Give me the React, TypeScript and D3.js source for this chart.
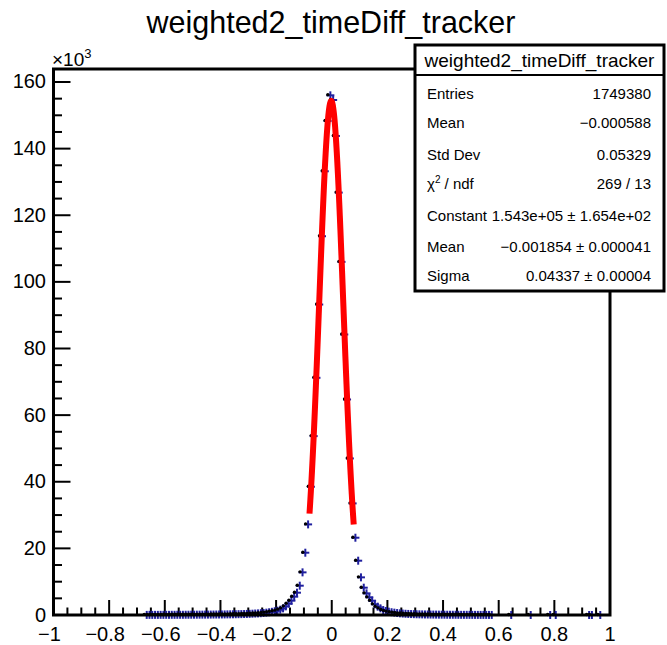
import React from "react";
import * as d3 from "d3";

// ---------- data ----------
const histTitle = "weighted2_timeDiff_tracker";
const firstBinCenter = -0.665;
const binWidth = 0.01;
// contiguous bin contents from -0.665 to 0.575
const counts: number[] = [
  30, 40, 35, 45, 40, 50, 45, 55, 50, 60,
  55, 65, 70, 65, 75, 80, 85, 90, 95, 100,
  105, 110, 120, 125, 135, 140, 150, 160, 170, 185,
  195, 210, 225, 245, 265, 290, 320, 350, 390, 430,
  480, 540, 610, 700, 820, 960, 1130,
  // -0.195 .. -0.005
  1300, 1600, 2000, 2600, 3400, 4300, 5500, 6700, 8800, 12800,
  18700, 27200, 38500, 53700, 71200, 93200, 113700, 133200, 148300, 156000,
  // 0.005 .. 0.195
  154600, 143800, 126800, 106000, 84200, 64700, 47000, 33500, 23200, 16300,
  11300, 8200, 6500, 5300, 4300, 3200, 2500, 2000, 1500, 1200,
  // 0.205 .. 0.575
  1000, 830, 700, 590, 500, 430, 370, 320, 280, 250,
  220, 200, 180, 160, 150, 135, 125, 115, 105, 95,
  90, 80, 75, 70, 65, 60, 55, 50, 48, 45,
  40, 38, 35, 30, 30, 25, 25, 20,
];
// isolated bins in the far right tail
const sparseCenters: number[] = [0.645, 0.715, 0.785, 0.805, 0.925, 0.935, 0.965];
const sparseCounts: number[] = [10, 8, 8, 6, 6, 6, 5];

// gaussian fit
const fitConstant = 1.543e5;
const fitMean = -0.001854;
const fitSigma = 0.04337;
const fitRange: [number, number] = [-0.08, 0.079];

// stats box
const statLabels = ["Entries", "Mean", "Std Dev", "χ² / ndf", "Constant", "Mean", "Sigma"];
const statValues = [
  "1749380",
  "−0.000588",
  "0.05329",
  "269 / 13",
  "1.543e+05 ± 1.654e+02",
  "−0.001854 ± 0.000041",
  "0.04337 ± 0.00004",
];

const xTickValues = [-1, -0.8, -0.6, -0.4, -0.2, 0, 0.2, 0.4, 0.6, 0.8, 1];
const yTickValues = [0, 20, 40, 60, 80, 100, 120, 140, 160];

// ---------- layout ----------
const W = 667;
const H = 645;
const FL = 53.5, FR = 610, FT = 69, FB = 615;
const FONT = "'Liberation Sans', Arial, Helvetica, sans-serif";
const BLUE = "#20209f";

export default function App() {
  const x = d3.scaleLinear().domain([-1, 1]).range([FL, FR]);
  const y = d3.scaleLinear().domain([0, 163.9e3]).range([FB, FT]);

  const points = counts
    .map((c, i) => ({ cx: firstBinCenter + i * binWidth, c }))
    .concat(sparseCenters.map((cx, i) => ({ cx, c: sparseCounts[i] })));

  const fitXs = d3.range(fitRange[0], fitRange[1] + 1e-9, 0.001);
  const gauss = (v: number) =>
    fitConstant * Math.exp(-0.5 * ((v - fitMean) / fitSigma) ** 2);
  const fitLine = d3
    .line<number>()
    .x((v) => x(v))
    .y((v) => y(gauss(v)))(fitXs);

  const xMinor = d3.range(-1, 1.0001, 0.05);
  const yMinor = d3.range(0, 160001, 5000);

  const fmtX = (v: number) => {
    const s = d3.format("~g")(Math.round(v * 10) / 10);
    return s.replace("-", "−");
  };

  const rowY = [94, 123, 155, 184, 216, 247, 276];

  return (
    <svg
      width={W}
      height={H}
      style={{ position: "absolute", left: 0, top: 0, display: "block", background: "#fff" }}
      fontFamily={FONT}
    >
      <rect x={0} y={0} width={W} height={H} fill="#fff" />
      {/* title */}
      <text x={331} y={33} fontSize={30.5} textAnchor="middle" fill="#000">
        {histTitle}
      </text>

      {/* x ticks */}
      {xMinor.map((v, i) => {
        const major = Math.abs(v * 5 - Math.round(v * 5)) < 1e-6;
        return (
          <line
            key={"xm" + i}
            x1={x(v)}
            x2={x(v)}
            y1={FB}
            y2={FB - (major ? 15 : 7.5)}
            stroke="#000"
            strokeWidth={2}
          />
        );
      })}
      {/* y ticks */}
      {yMinor.map((v, i) => {
        const major = v % 20000 === 0;
        return (
          <line
            key={"ym" + i}
            x1={FL}
            x2={FL + (major ? 17 : 8.5)}
            y1={y(v)}
            y2={y(v)}
            stroke="#000"
            strokeWidth={2}
          />
        );
      })}

      {/* x tick labels */}
      {xTickValues.map((v, i) => (
        <text key={"xl" + i} x={x(v) - (v < 0 ? 4 : 0)} y={641} fontSize={20} textAnchor="middle">
          {fmtX(v)}
        </text>
      ))}
      {/* y tick labels */}
      {yTickValues.map((v, i) => (
        <text key={"yl" + i} x={46} y={y(v * 1000) + 6.5} fontSize={20} textAnchor="end">
          {v}
        </text>
      ))}
      {/* exponent */}
      <text x={52} y={66} fontSize={19}>
        ×10
        <tspan dy={-8} fontSize={13}>3</tspan>
      </text>

      {/* data points */}
      {points.map((p, i) => {
        const px = x(p.cx);
        const py = y(p.c);
        return (
          <g key={"p" + i}>
            <line x1={px - 4} x2={px + 4} y1={py} y2={py} stroke={BLUE} strokeWidth={2} />
            <line x1={px} x2={px} y1={py - 4} y2={py + 4} stroke={BLUE} strokeWidth={2} />
            <circle cx={px - 2.5} cy={py - 0.5} r={1.7} fill="#000" />
          </g>
        );
      })}

      {/* fit */}
      <path d={fitLine ?? ""} fill="none" stroke="#ff0000" strokeWidth={6} />

      {/* frame */}
      <rect x={FL} y={FT} width={FR - FL} height={FB - FT} fill="none" stroke="#000" strokeWidth={3} />

      {/* stats box */}
      <rect x={415} y={45} width={249} height={246} fill="#fff" stroke="#000" strokeWidth={3} />
      <line x1={415} x2={664} y1={75} y2={75} stroke="#000" strokeWidth={2} />
      <text x={539.5} y={66.5} fontSize={19} textAnchor="middle">
        {histTitle}
      </text>
      {statLabels.map((lab, i) => (
        <g key={"s" + i}>
          <text x={427} y={rowY[i] + 5} fontSize={15}>
            {i === 3 ? (
              <>
                χ<tspan dy={-6} fontSize={10}>2</tspan>
                <tspan dy={6}>{"  / ndf"}</tspan>
              </>
            ) : (
              lab
            )}
          </text>
          <text x={651} y={rowY[i] + 5} fontSize={15} textAnchor="end">
            {statValues[i]}
          </text>
        </g>
      ))}
    </svg>
  );
}
